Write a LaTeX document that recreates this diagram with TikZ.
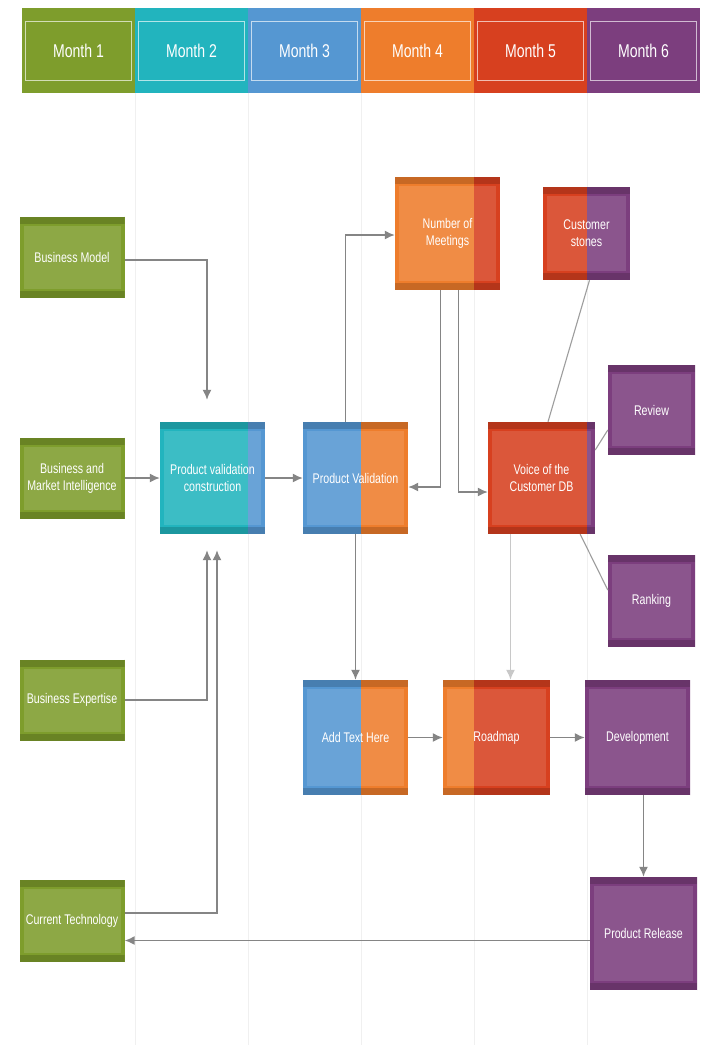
\documentclass[tikz,border=0pt]{standalone}
\usepackage{fontspec}
\usepackage{tikz}
\usetikzlibrary{arrows.meta,calc,positioning}
\newfontfamily\narrowfont[FakeStretch=0.76]{Liberation Sans}
\definecolor{MonGreen}{HTML}{7E9D2C}
\definecolor{MonTeal}{HTML}{22B4BE}
\definecolor{MonBlue}{HTML}{5597D2}
\definecolor{MonOrange}{HTML}{EE7D2C}
\definecolor{MonRed}{HTML}{D7401F}
\definecolor{MonPurple}{HTML}{7C3E7E}
\definecolor{LinkGray}{HTML}{858585}
\newcommand{\boxbands}{%
  \fill[black,opacity=.16] (path picture bounding box.north west) rectangle ([yshift=-7pt]path picture bounding box.north east);
  \fill[black,opacity=.16] (path picture bounding box.south west) rectangle ([yshift=7pt]path picture bounding box.south east);
  \fill[white,opacity=.12] ([shift={(4pt,-9pt)}]path picture bounding box.north west) rectangle ([shift={(-4pt,9pt)}]path picture bounding box.south east);
}
\tikzset{
  box/.style={minimum width=105pt,minimum height=112pt,inner sep=2pt,align=center,
    text=white,font=\narrowfont\fontsize{14}{17}\selectfont},
  duo/.style n args={3}{box,fill=#1,path picture={
    \fill[#2] ($(path picture bounding box.north west)!#3!(path picture bounding box.north east)$)
      rectangle (path picture bounding box.south east);
    \boxbands}},
  mono/.style={duo={#1}{#1}{1}},
  inbox/.style={mono=MonGreen,minimum height=81pt},
  mo/.style={minimum width=113pt,minimum height=85pt,inner sep=0pt,text=white,
    font=\narrowfont\fontsize{18.5}{20}\selectfont},
  link/.style={draw=LinkGray,line width=1.5pt,-{Latex[length=10pt,width=9pt]}},
  plain/.style={draw=LinkGray!80,line width=1.1pt}
}
\begin{document}
\begin{tikzpicture}[x=1pt,y=-1pt]
  \useasboundingbox[fill=white] (0,0) rectangle (705,1045);
  % column guides
  \foreach \x in {135,248,361,474,587}
    \draw[gray!12,line width=.8pt] (\x,93) -- (\x,1045);
  % month header
  \foreach \i/\c in {1/MonGreen,2/MonTeal,3/MonBlue,4/MonOrange,5/MonRed,6/MonPurple} {
    \node[mo,fill=\c] (m\i) at ({22+113*(\i-.5)},50.5) {Month \i};
    \draw[\c!35!white,line width=1pt] ([shift={(4pt,-14pt)}]m\i.north west) rectangle ([shift={(-4pt,13pt)}]m\i.south east);
  }
  % inputs
  \node[inbox] (bm) at (72,257) {Business Model};
  \node[inbox] (bmi) at (72,478) {Business and\\Market Intelligence};
  \node[inbox] (be) at (72,700) {Business Expertise};
  \node[inbox,minimum height=82pt] (ct) at (72,921) {Current Technology};
  % validation
  \node[duo={MonTeal}{MonBlue}{.84}] (pvc) at (212.5,478) {Product validation\\construction};
  \node[duo={MonBlue}{MonOrange}{.55}] (pv) at (355.5,478) {Product Validation};
  \node[duo={MonOrange}{MonRed}{.75},minimum height=113pt] (nom) at (447.5,233.5) {Number of\\Meetings};
  \node[duo={MonRed}{MonPurple}{.5},minimum width=87pt,minimum height=93pt] (cs) at (586.5,233.5) {Customer\\stones};
  \node[duo={MonRed}{MonPurple}{.925},minimum width=107pt] (voc) at (541.5,478) {Voice of the\\Customer DB};
  \node[mono=MonPurple,minimum width=87pt,minimum height=90pt] (rev) at (651.5,410) {Review};
  \node[mono=MonPurple,minimum width=87pt,minimum height=92pt] (rank) at (651.5,601) {Ranking};
  % delivery
  \node[duo={MonBlue}{MonOrange}{.55},minimum height=115pt] (ath) at (355.5,737.5) {Add Text Here};
  \node[duo={MonOrange}{MonRed}{.29},minimum width=107pt,minimum height=115pt] (road) at (496.5,737.5) {Roadmap};
  \node[mono=MonPurple,minimum height=115pt] (dev) at (637.5,737.5) {Development};
  \node[mono=MonPurple,minimum width=107pt,minimum height=113pt] (rel) at (643.5,933.5) {Product Release};
  % connectors
  \draw[link,shorten >=22pt] ([yshift=-3pt]bm.east) -| ([xshift=-5.5pt]pvc.north);
  \draw[link] (bmi) -- (pvc);
  \draw[link,shorten >=16pt] (be.east) -| ([xshift=-5.5pt]pvc.south);
  \draw[link,shorten >=16pt] ([yshift=8pt]ct.east) -| ([xshift=4.5pt]pvc.south);
  \draw[link] (pvc) -- (pv);
  \draw[link] ([xshift=-10pt]pv.north) |- ([yshift=-1.5pt]nom.west);
  \draw[link] ([xshift=-7pt]nom.south) |- ([yshift=-9pt]pv.east);
  \draw[link] ([xshift=11pt]nom.south) |- ([yshift=-14pt]voc.west);
  \draw[plain] ([xshift=3pt]cs.south) -- ([xshift=6.5pt]voc.north);
  \draw[plain] ([yshift=28pt]voc.east) -- ([yshift=-20pt]rev.west);
  \draw[plain] ([xshift=-15pt]voc.south east) -- ([yshift=11pt]rank.west);
  \draw[link,draw=LinkGray!45] ([xshift=-31pt]voc.south) -- ([xshift=-31pt]voc.south |- road.north);
  \draw[link] (pv) -- (ath);
  \draw[link] (ath) -- (road);
  \draw[link] (road) -- (dev);
  \draw[link] ([xshift=6pt]dev.south) -- ([xshift=6pt]dev.south |- rel.north);
  \draw[link] ([yshift=-7pt]rel.west) -- ([yshift=-7pt]rel.west -| ct.east);
\end{tikzpicture}
\end{document}
